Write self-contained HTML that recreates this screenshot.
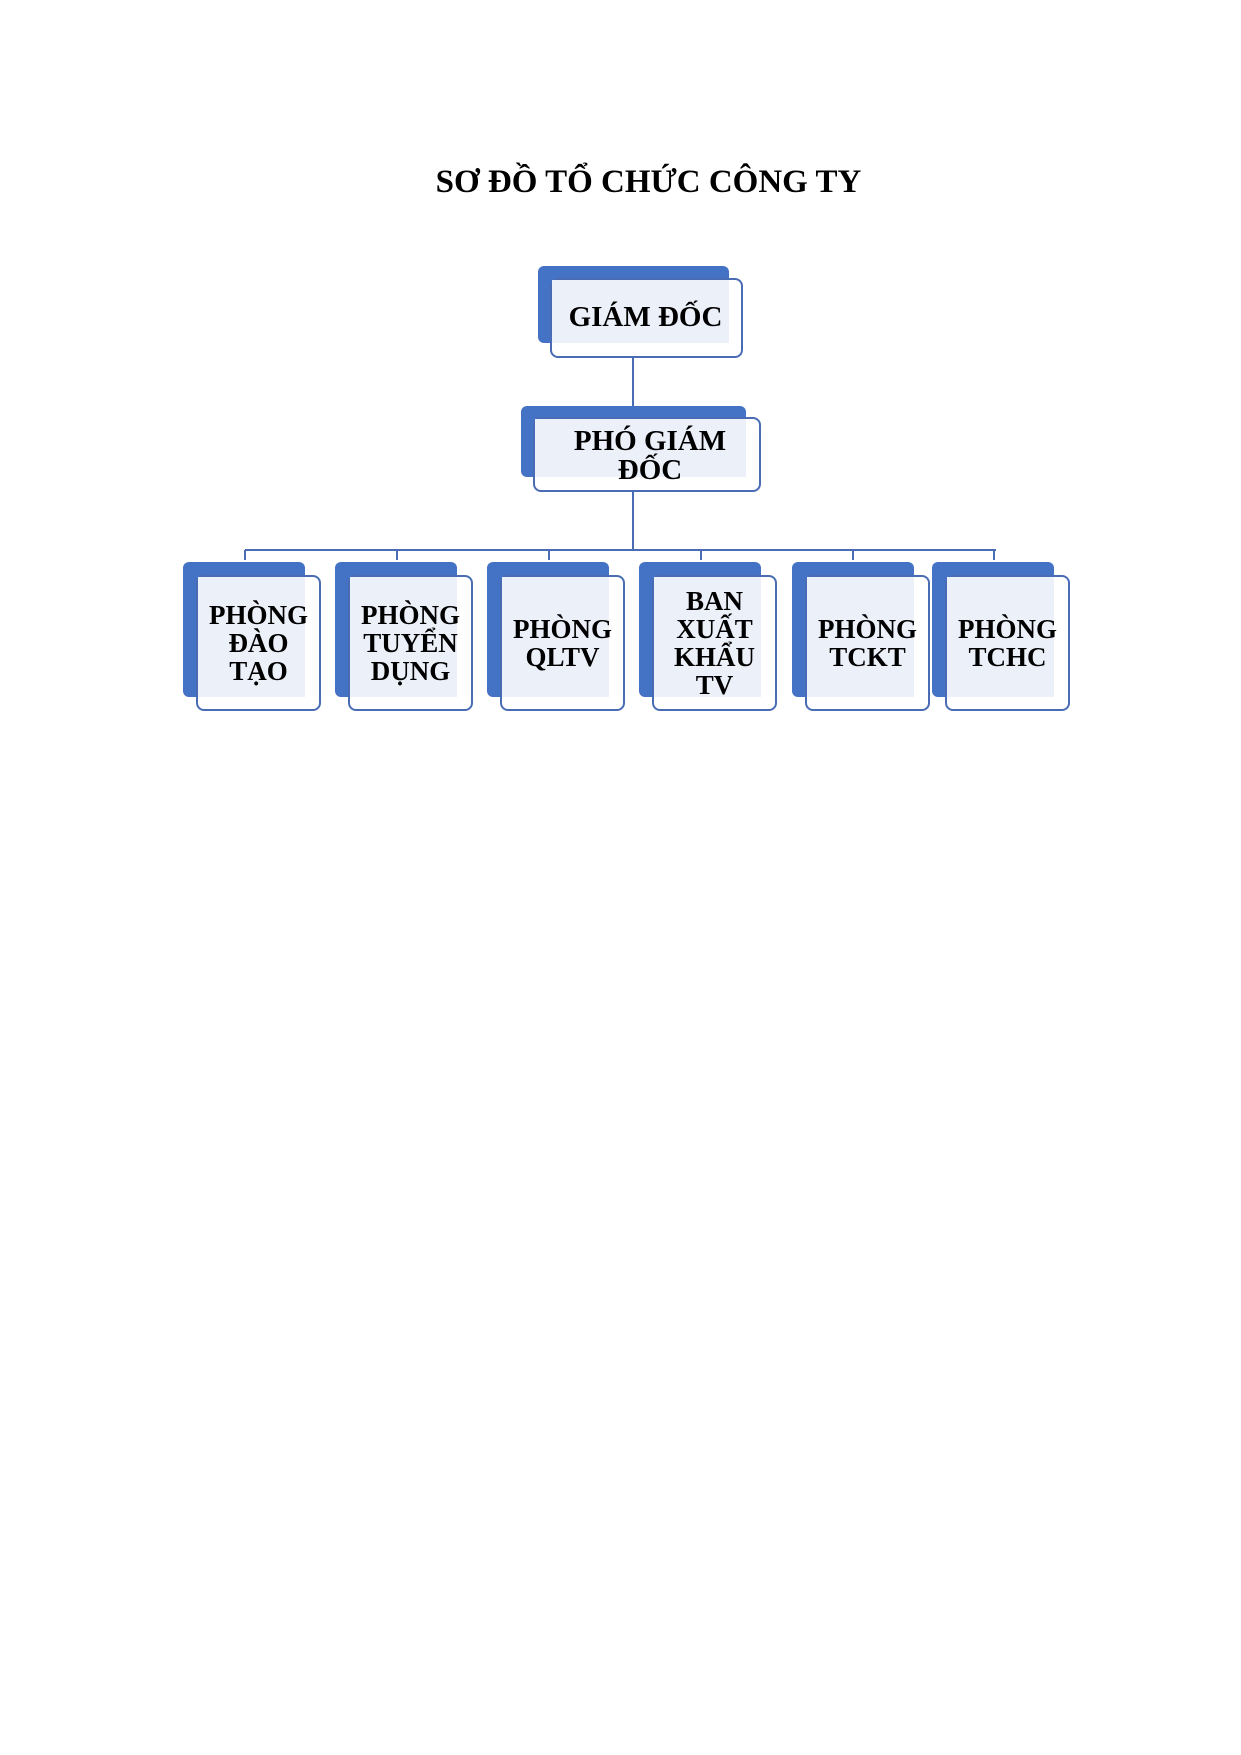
<!DOCTYPE html>
<html><head><meta charset="utf-8"><style>
body{margin:0;width:1241px;height:1755px;background:#fff;position:relative;font-family:"Liberation Serif",serif;}
.a{position:absolute;box-sizing:border-box}
.bk{background:#4472C4;border-radius:6px}
.fr{background:#fff;border:2px solid #4A6CB5;border-radius:8px}
.ov{background:#ECF0F9}
.t{position:absolute;display:flex;align-items:center;justify-content:center;text-align:center;font-weight:bold;color:#000;font-size:27px;line-height:28px}
.l{position:absolute;background:#4A6CB5}
</style></head><body>
<div class="t" style="left:0;width:1297px;top:162px;height:40px;font-size:33px">SƠ ĐỒ TỔ CHỨC CÔNG TY</div>

<div class="l" style="left:632px;top:343px;width:2px;height:207px"></div>
<div class="l" style="left:245px;top:549px;width:751px;height:2px"></div>

<div class="a bk" style="left:538px;top:266px;width:191px;height:77px"></div>
<div class="a fr" style="left:550px;top:278px;width:193px;height:80px"></div>
<div class="a ov" style="left:552px;top:280px;width:177px;height:63px"></div>
<div class="t" style="left:549px;top:279px;width:193px;height:76px;font-size:29px">GIÁM ĐỐC</div>

<div class="a bk" style="left:521px;top:406px;width:225px;height:71px"></div>
<div class="a fr" style="left:533px;top:417px;width:228px;height:75px"></div>
<div class="a ov" style="left:535px;top:419px;width:211px;height:58px"></div>
<div class="t" style="left:533px;top:423px;width:228px;height:65px;font-size:29px;line-height:29px;padding-left:6px;box-sizing:border-box">PHÓ GIÁM<br>ĐỐC</div>

<div id="b"></div>
<script>
var xs=[183,335,487,639,792,932],ds=[245,397,549,701,853,994];
var tx=["PHÒNG<br>ĐÀO<br>TẠO","PHÒNG<br>TUYỂN<br>DỤNG","PHÒNG<br>QLTV","BAN<br>XUẤT<br>KHẨU<br>TV","PHÒNG<br>TCKT","PHÒNG<br>TCHC"];
var h="";
for(var i=0;i<6;i++){var x=xs[i];
h+='<div class="l" style="left:'+(ds[i]-1)+'px;top:550px;width:2px;height:10px"></div>';
h+='<div class="a bk" style="left:'+x+'px;top:562px;width:122px;height:135px"></div>';
h+='<div class="a fr" style="left:'+(x+13)+'px;top:575px;width:125px;height:136px"></div>';
h+='<div class="a ov" style="left:'+(x+15)+'px;top:577px;width:107px;height:120px"></div>';
h+='<div class="t" style="left:'+(x+13)+'px;top:580px;width:125px;height:126px">'+tx[i]+'</div>';}
document.getElementById("b").innerHTML=h;
</script>
</body></html>
